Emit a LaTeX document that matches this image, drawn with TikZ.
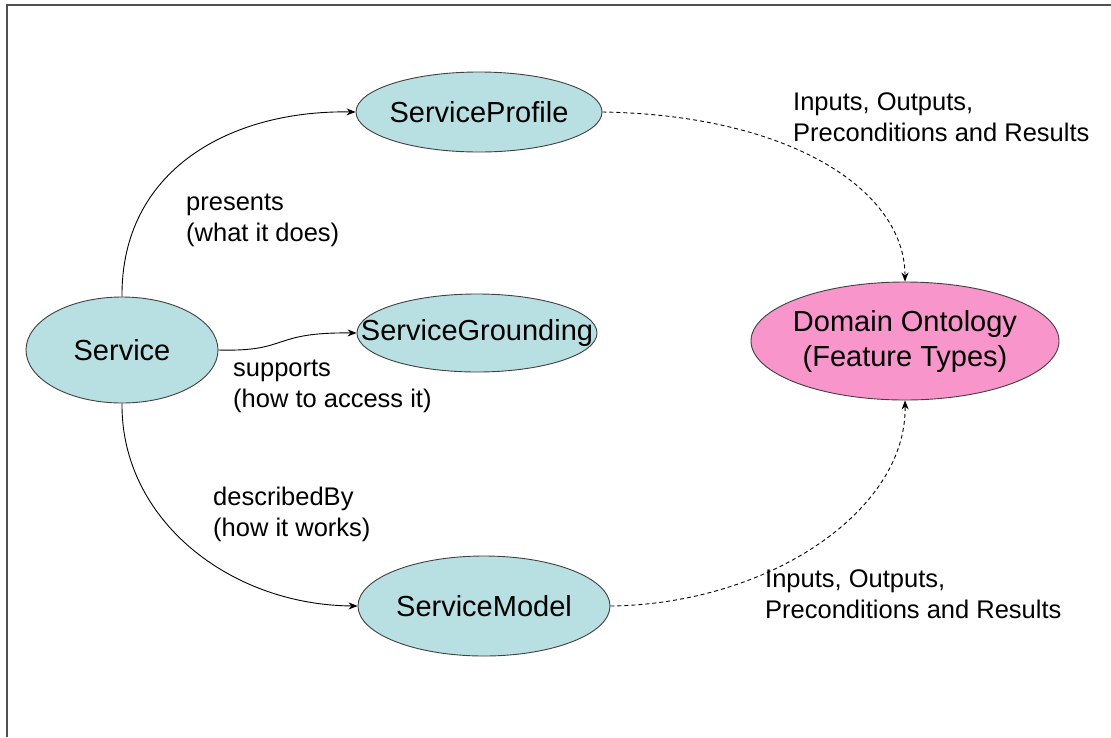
\documentclass[tikz,border=0pt]{standalone}
\usepackage{fontspec}
\setmainfont{Liberation Sans}
\usetikzlibrary{shapes.geometric,arrows.meta}
\definecolor{teal1}{HTML}{B8DFE2}
\definecolor{pink1}{HTML}{F895CB}
\definecolor{frame1}{HTML}{505050}
\tikzset{
  ell/.style={ellipse, draw=black!75, line width=0.9pt, inner sep=0pt},
  blue/.style={ell, fill=teal1},
  pinkn/.style={ell, fill=pink1},
  etext/.style={inner sep=0pt, align=center, font=\fontsize{29}{35}\selectfont},
  lab/.style={align=left, anchor=north west, inner sep=0pt, font=\fontsize{25.5}{31}\selectfont},
  conn/.style={line width=0.9pt, -{Stealth[length=9pt,width=7pt]}},
  dconn/.style={conn, dash pattern=on 4pt off 3pt}
}
\begin{document}
\begin{tikzpicture}[x=1pt,y=-1pt]
\useasboundingbox (0,0) rectangle (1111,737);
\fill[white] (0,0) rectangle (1111,737);
\draw[frame1, line width=1.5pt] (7,737) -- (7,5) -- (1111,5);

\node[blue, minimum width=246pt, minimum height=80pt] (prof) at (479,112) {};
\node[etext] (proft) at (prof.center) {ServiceProfile};
\node[blue, minimum width=240pt, minimum height=78pt] (grd) at (477,333) {};
\node[etext] (grdt) at (grd.center) {ServiceGrounding};
\node[blue, minimum width=192pt, minimum height=106pt] (srv) at (122,350) {};
\node[etext] (srvt) at (srv.center) {Service};
\node[pinkn, minimum width=308pt, minimum height=118pt] (dom) at (905,341) {};
\node[etext] (domt) at (dom.center) {Domain Ontology\\(Feature Types)};
\node[blue, minimum width=252pt, minimum height=100pt] (mod) at (484,606) {};
\node[etext] (modt) at (mod.center) {ServiceModel};

\draw[conn] (srv.north) .. controls (121,170) and (230,110) .. (prof.west);
\draw[conn] (srv.east) .. controls (290,352) and (270,332) .. (grd.west);
\draw[conn] (srv.south) .. controls (121,520) and (230,605) .. (mod.west);
\draw[dconn] (prof.east) .. controls (790,115) and (905,190) .. (dom.north);
\draw[dconn] (mod.east) .. controls (770,604) and (907,510) .. (dom.south);

\node[lab] (l1) at (186,194) {presents\\(what it does)};
\node[lab] (l2) at (233,360) {supports\\(how to access it)};
\node[lab] (l3) at (213,487) {describedBy\\(how it works)};
\node[lab] (l4) at (793,92) {Inputs, Outputs,\\Preconditions and Results};
\node[lab] (l5) at (765,569) {Inputs, Outputs,\\Preconditions and Results};
\end{tikzpicture}
\end{document}
